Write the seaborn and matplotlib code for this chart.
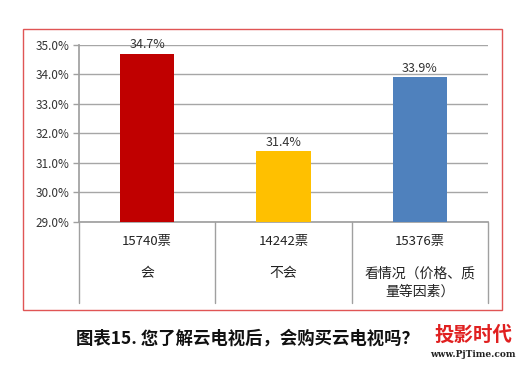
import seaborn as sns
import pandas as pd
import matplotlib.pyplot as plt
from matplotlib.patches import Rectangle
from matplotlib.lines import Line2D

# 数据
categories = ['会', '不会', '看情况（价格、质\n量等因素）']
votes = ['15740票', '14242票', '15376票']
percent = [34.7, 31.4, 33.9]
colors = ['#C00000', '#FFC000', '#4F81BD']
yticks = [29, 30, 31, 32, 33, 34, 35]

df = pd.DataFrame({'cat': categories, 'pct': percent})

sns.set_theme(style='white')
plt.rcParams['font.family'] = ['Noto Sans CJK SC', 'DejaVu Sans']

fig = plt.figure(figsize=(5.23, 3.65), dpi=100)
ax = fig.add_axes([0.151, 0.392, 0.782, 0.485])

sns.barplot(data=df, x='cat', y='pct', hue='cat', palette=colors, saturation=1,
            width=0.4, legend=False, ax=ax, zorder=3, edgecolor='none')

ax.set_ylim(29, 35)
ax.set_yticks(yticks)
ax.set_yticklabels([f'{v:.1f}%' for v in yticks], fontsize=8.5, color='#333333')
ax.tick_params(axis='y', length=4, width=1, color='#a0a0a0', pad=3, left=True)
ax.grid(axis='y', color='#a6a6a6', linewidth=1, zorder=0)
ax.set_xlim(-0.5, len(categories) - 0.5)
ax.set_xticks([])
ax.set_xlabel('')
ax.set_ylabel('')
for s in ['top', 'right']:
    ax.spines[s].set_visible(False)
ax.spines['left'].set_color('#a0a0a0')
ax.spines['bottom'].set_color('#a0a0a0')

# 数值标签
for i, v in enumerate(percent):
    ax.text(i, v + 0.08, f'{v}%', ha='center', va='bottom', fontsize=9, color='#333333')

# 类别标签与分隔线
trans = ax.get_xaxis_transform()
for i in range(len(categories) + 1):
    ax.add_line(Line2D([i - 0.5, i - 0.5], [0, -0.46], transform=trans,
                       color='#a0a0a0', linewidth=1, clip_on=False))
for i, (c, n) in enumerate(zip(categories, votes)):
    ax.text(i, -0.113, n, transform=trans, ha='center', va='center', fontsize=9.5, color='#222222')
    ax.text(i, -0.25, c, transform=trans, ha='center', va='top', fontsize=10,
            color='#222222', linespacing=1.45)

# 外框
fig.patches.append(Rectangle((0.044, 0.151), 0.916, 0.770, transform=fig.transFigure,
                             fill=False, edgecolor='#E05555', linewidth=1))

# 标题
fig.text(0.145, 0.073, '图表15. 您了解云电视后，会购买云电视吗？', fontsize=12.5,
         fontweight='bold', ha='left', va='center', color='#111111')

# 水印
fig.text(0.905, 0.082, '投影时代', fontsize=14, fontweight='bold', color='#E02020',
         ha='center', va='center',
         bbox=dict(facecolor='white', edgecolor='none', pad=1, alpha=0.9))
fig.text(0.905, 0.030, 'www.PjTime.com', fontsize=6.5, fontweight='bold', color='#222222',
         ha='center', va='center', family=['DejaVu Serif'])

fig.savefig('out.png', dpi=100)
